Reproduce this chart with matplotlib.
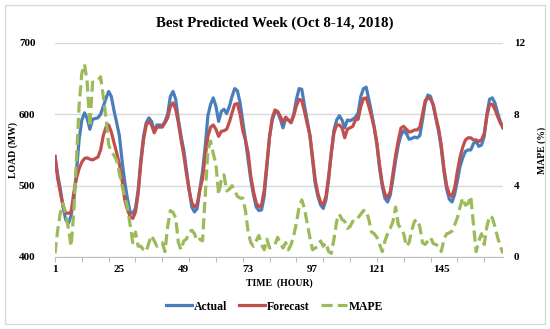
import numpy as np
import matplotlib
matplotlib.use("Agg")
import matplotlib.pyplot as plt
from matplotlib.patches import Rectangle

# --- datos (168 horas, 8-14 oct 2018) ---
hours = np.arange(1, 169)

actual = [
    541, 515, 495, 470, 452, 447, 458, 480, 520, 565, 592, 602, 594, 579, 593, 594, 595, 600, 611, 622, 632, 625, 605, 588,
    570, 535, 505, 482, 463, 461, 468, 494, 536, 569, 588, 595, 590, 576, 585, 585, 584, 590, 600, 625, 632, 621, 592, 569,
    550, 522, 494, 470, 463, 468, 495, 520, 555, 598, 614, 623, 611, 590, 604, 607, 601, 611, 625, 636, 633, 616, 590, 564,
    536, 508, 487, 470, 465, 466, 485, 527, 569, 592, 603, 603, 593, 581, 594, 592, 589, 600, 621, 636, 635, 612, 592, 571,
    536, 503, 485, 473, 468, 480, 508, 546, 578, 592, 598, 592, 581, 592, 591, 593, 596, 602, 625, 636, 638, 621, 602, 582,
    557, 524, 499, 482, 477, 487, 510, 536, 557, 571, 577, 573, 565, 566, 568, 567, 570, 592, 616, 627, 625, 612, 594, 576,
    552, 520, 495, 481, 477, 488, 507, 527, 539, 548, 550, 550, 559, 562, 555, 557, 569, 600, 621, 623, 616, 602, 590, 581,
]

forecast = [
    541, 510, 490, 472, 462, 461, 463, 490, 510, 524, 533, 538, 539, 537, 536, 538, 540, 550, 570, 582, 585, 575, 560, 546,
    530, 508, 480, 466, 457, 454, 463, 489, 531, 564, 585, 590, 585, 574, 582, 582, 582, 588, 595, 611, 616, 607, 588, 564,
    543, 517, 494, 476, 470, 474, 494, 510, 541, 569, 582, 585, 579, 569, 576, 577, 579, 589, 602, 614, 615, 600, 577, 564,
    546, 513, 492, 476, 470, 473, 494, 531, 569, 595, 606, 604, 597, 588, 596, 592, 588, 598, 612, 621, 619, 604, 587, 571,
    541, 508, 489, 477, 473, 485, 513, 546, 574, 585, 585, 581, 567, 579, 581, 583, 592, 593, 611, 622, 623, 611, 597, 581,
    560, 529, 503, 488, 483, 492, 517, 543, 564, 581, 583, 579, 575, 576, 578, 578, 582, 600, 619, 623, 621, 614, 596, 580,
    557, 524, 500, 488, 485, 497, 520, 540, 554, 564, 567, 567, 564, 564, 562, 564, 573, 597, 614, 614, 607, 597, 588, 581,
]

mape = [
    0.2, 1.5, 2.5, 3.0, 2.4, 1.6, 0.6, 2.5, 5.5, 8.5, 10.3, 10.8, 9.8, 7.3, 9.8, 9.8, 9.9, 10.1, 9.0, 7.8, 6.3, 5.9, 5.7, 5.4,
    4.7, 4.0, 3.4, 2.8, 1.8, 0.8, 1.4, 0.6, 0.6, 0.4, 0.3, 0.8, 1.2, 0.9, 0.6, 0.7, 0.8, 0.3, 1.7, 2.6, 2.5, 2.2, 0.8, 0.4,
    0.9, 1.0, 1.4, 1.5, 1.3, 0.9, 1.0, 0.9, 3.4, 6.0, 6.5, 5.8, 5.2, 3.5, 4.3, 4.6, 3.7, 3.8, 4.0, 3.7, 3.4, 3.3, 3.3, 2.6,
    1.4, 0.8, 0.6, 0.9, 1.2, 0.7, 0.4, 1.0, 0.5, 0.6, 0.7, 1.1, 0.75, 0.5, 0.8, 0.4, 0.7, 1.2, 1.9, 2.8, 3.2, 2.7, 1.9, 1.1,
    0.4, 0.5, 0.6, 0.9, 0.6, 0.8, 0.3, 0.2, 1.0, 2.0, 2.4, 2.1, 2.0, 1.6, 1.7, 2.0, 2.0, 2.2, 2.4, 2.6, 2.6, 2.1, 1.4, 1.3,
    1.1, 0.7, 0.3, 0.9, 1.3, 1.6, 2.0, 2.8, 1.8, 1.6, 1.3, 0.6, 0.8, 1.5, 2.0, 2.1, 1.7, 0.8, 0.7, 0.9, 1.1, 0.75, 0.7, 0.6,
    0.3, 1.0, 1.3, 1.35, 1.45, 1.8, 2.2, 2.8, 3.3, 2.9, 3.0, 3.4, 1.8, 0.3, 0.9, 1.3, 0.7, 1.7, 2.3, 2.2, 1.7, 1.1, 0.6, 0.2,
]

xtick_labels = [1, 25, 49, 73, 97, 121, 145]
load_ticks = [400, 500, 600, 700]
mape_ticks = [0, 4, 8, 12]

# --- estilo ---
FUENTE = "Liberation Serif"
plt.rcParams["font.family"] = FUENTE
plt.rcParams["font.weight"] = "bold"

C_ACT = "#4A7EBB"
C_FOR = "#C0504D"
C_MAPE = "#9BBB59"

fig = plt.figure(figsize=(5.5, 3.29), dpi=100)
fig.patches.append(Rectangle((0.009, 0.015), 0.982, 0.97, transform=fig.transFigure,
                             fill=False, edgecolor="#D9D9D9", linewidth=1.0))

ax = fig.add_axes([0.1, 0.219, 0.8145, 0.6505])
ax.plot(hours, actual, color=C_ACT, linewidth=2.3, label="Actual", zorder=3)
ax.plot(hours, forecast, color=C_FOR, linewidth=2.3, label="Forecast", zorder=4)

ax.set_xlim(1, 168)
ax.set_ylim(400, 700)
ax.set_yticks(load_ticks)
ax.yaxis.grid(True, color="#D9D9D9", linewidth=1.0)
ax.set_axisbelow(True)

ax.set_xticks(xtick_labels)
ax.set_xticklabels([str(v) for v in xtick_labels])
ax.set_xticks(np.arange(1, 169, 10), minor=True)
ax.xaxis.remove_overlapping_locs = False
ax.tick_params(axis="x", which="major", length=0, pad=6, labelsize=8)
ax.tick_params(axis="x", which="minor", length=3.5, color="#BFBFBF", width=0.8)
ax.tick_params(axis="y", length=0, pad=14, labelsize=8)

for s in ["top", "left", "right"]:
    ax.spines[s].set_visible(False)
ax.spines["bottom"].set_color("#BFBFBF")

ax.set_xlabel("TIME  (HOUR)", fontsize=7, fontweight="bold", labelpad=3)
ax.set_ylabel("LOAD (MW)", fontsize=7, fontweight="bold", labelpad=1)

ax2 = ax.twinx()
ax2.plot(hours, mape, color=C_MAPE, linewidth=2.3, linestyle=(0, (3.5, 1.6)), label="MAPE", zorder=5)
ax2.set_ylim(0, 12)
ax2.set_yticks(mape_ticks)
ax2.tick_params(axis="y", length=0, pad=8, labelsize=8)
for s in ["top", "left", "right", "bottom"]:
    ax2.spines[s].set_visible(False)
ax2.set_ylabel("MAPE (%)", fontsize=7, fontweight="bold", labelpad=9)

fig.suptitle("Best Predicted Week (Oct 8-14, 2018)", fontsize=10.8, fontweight="bold", y=0.95)

h1, l1 = ax.get_legend_handles_labels()
h2, l2 = ax2.get_legend_handles_labels()
fig.legend(h1 + h2, l1 + l2, loc="center", bbox_to_anchor=(0.5, 0.068), ncol=3, frameon=False,
           fontsize=8.5, handlelength=2.2, handletextpad=0.15, columnspacing=1.0)

fig.savefig("out.png", dpi=100)
